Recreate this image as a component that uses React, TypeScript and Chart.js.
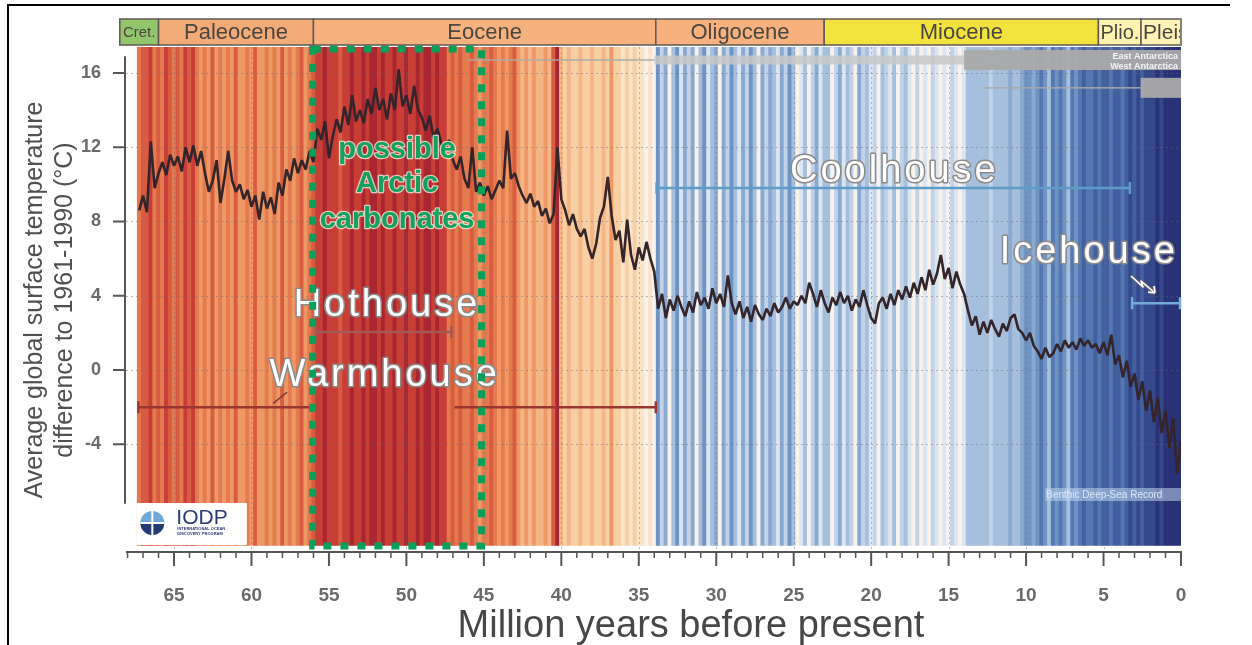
import React, { useEffect, useRef } from "react";
import { Chart, registerables } from "chart.js";
Chart.register(...registerables);

// ---------- DATA ----------
const AGES = [
  67.25, 67,
  66.75, 66.5, 66.25, 66, 65.75, 65.5, 65.25, 65, 64.75, 64.5, 64.25, 64,
  63.75, 63.5, 63.25, 63, 62.75, 62.5, 62.25, 62, 61.75, 61.5, 61.25, 61,
  60.75, 60.5, 60.25, 60, 59.75, 59.5, 59.25, 59, 58.75, 58.5, 58.25, 58,
  57.75, 57.5, 57.25, 57, 56.75, 56.5, 56.25, 56, 55.75, 55.5, 55.25, 55,
  54.75, 54.5, 54.25, 54, 53.75, 53.5, 53.25, 53, 52.75, 52.5, 52.25, 52,
  51.75, 51.5, 51.25, 51, 50.75, 50.5, 50.25, 50, 49.75, 49.5, 49.25, 49,
  48.75, 48.5, 48.25, 48, 47.75, 47.5, 47.25, 47, 46.75, 46.5, 46.25, 46,
  45.75, 45.5, 45.25, 45, 44.75, 44.5, 44.25, 44, 43.75, 43.5, 43.25, 43,
  42.75, 42.5, 42.25, 42, 41.75, 41.5, 41.25, 41, 40.75, 40.5, 40.25, 40,
  39.75, 39.5, 39.25, 39, 38.75, 38.5, 38.25, 38, 37.75, 37.5, 37.25, 37,
  36.75, 36.5, 36.25, 36, 35.75, 35.5, 35.25, 35, 34.75, 34.5, 34.25, 34,
  33.75, 33.5, 33.25, 33, 32.75, 32.5, 32.25, 32, 31.75, 31.5, 31.25, 31,
  30.75, 30.5, 30.25, 30, 29.75, 29.5, 29.25, 29, 28.75, 28.5, 28.25, 28,
  27.75, 27.5, 27.25, 27, 26.75, 26.5, 26.25, 26, 25.75, 25.5, 25.25, 25,
  24.75, 24.5, 24.25, 24, 23.75, 23.5, 23.25, 23, 22.75, 22.5, 22.25, 22,
  21.75, 21.5, 21.25, 21, 20.75, 20.5, 20.25, 20, 19.75, 19.5, 19.25, 19,
  18.75, 18.5, 18.25, 18, 17.75, 17.5, 17.25, 17, 16.75, 16.5, 16.25, 16,
  15.75, 15.5, 15.25, 15, 14.75, 14.5, 14.25, 14, 13.75, 13.5, 13.25, 13,
  12.75, 12.5, 12.25, 12, 11.75, 11.5, 11.25, 11, 10.75, 10.5, 10.25, 10,
  9.75, 9.5, 9.25, 9, 8.75, 8.5, 8.25, 8, 7.75, 7.5, 7.25, 7,
  6.75, 6.5, 6.25, 6, 5.75, 5.5, 5.25, 5, 4.75, 4.5, 4.25, 4,
  3.75, 3.5, 3.25, 3, 2.75, 2.5, 2.25, 2, 1.75, 1.5, 1.25, 1,
  0.75, 0.5, 0.25, 0,
];

// Average global surface temperature difference to 1961-1990 (°C)
const TEMPS = [
  8.6, 9.4,
  8.5, 12.3, 9.8, 10.6, 11.2, 10.5, 11.6, 11.0, 11.5, 10.7, 12.0, 11.2,
  12.1, 11.0, 11.8, 10.6, 9.6, 10.2, 11.3, 9.0, 10.3, 11.8, 10.2, 9.6,
  10.0, 9.2, 9.7, 8.8, 9.4, 8.1, 9.6, 8.7, 9.3, 8.4, 10.1, 9.4,
  10.8, 10.2, 11.4, 10.6, 11.3, 10.8, 11.8, 11.2, 13.0, 12.4, 13.4, 11.4,
  12.6, 13.5, 12.8, 14.2, 13.2, 14.8, 13.4, 14.0, 13.3, 14.6, 13.8, 15.2,
  14.0, 14.6, 13.5, 14.9, 14.0, 16.2, 14.2, 14.8, 13.8, 15.3, 14.0, 13.6,
  12.9, 13.7, 12.5, 13.0, 12.2, 11.8, 12.4, 11.3, 10.8, 11.5, 10.3, 9.8,
  12.0, 9.6, 10.1, 9.4, 9.9, 9.2, 9.7, 10.2, 9.8, 12.9, 10.3, 10.6,
  9.9, 9.4, 9.0, 9.5, 8.8, 9.1, 8.3, 8.7, 7.9, 8.4, 12.0, 9.2,
  8.6, 7.8, 8.4, 7.6, 7.2, 7.6, 6.6, 6.0, 6.8, 8.2, 8.8, 10.4,
  8.3, 7.0, 7.5, 5.8, 8.1, 6.2, 5.4, 6.6, 5.9, 6.9, 6.0, 5.3,
  3.3, 4.1, 2.8, 3.8, 3.2, 4.0, 3.4, 2.9, 3.7, 3.1, 4.2, 3.5,
  3.9, 3.3, 4.4, 3.6, 4.1, 3.4, 5.1, 3.6, 3.0, 3.7, 2.8, 3.4,
  2.6, 3.5, 3.0, 2.7, 3.3, 2.9, 3.6, 3.1, 3.4, 3.9, 3.3, 3.7,
  3.5, 4.0, 3.6, 4.7, 4.1, 3.4, 4.3, 3.6, 3.1, 3.9, 3.5, 4.2,
  3.6, 4.0, 3.2, 3.8, 3.4, 4.3, 3.5, 2.8, 2.5, 3.6, 3.9, 3.3,
  4.1, 3.5, 4.3, 3.8, 4.5, 3.9, 4.7, 4.1, 5.0, 4.3, 5.4, 4.6,
  5.2, 6.2, 4.9, 5.5, 4.4, 5.3, 4.6, 4.1, 3.2, 2.4, 2.9, 1.9,
  2.6, 2.0, 2.7, 2.2, 1.8, 2.5, 2.1, 2.8, 3.0, 2.2, 2.0, 1.6,
  2.0, 1.3, 1.0, 0.6, 1.2, 0.7, 0.9, 1.4, 1.0, 1.6, 1.2, 1.5,
  1.1, 1.7, 1.3, 1.6, 1.2, 1.4, 0.9, 1.5, 0.8, 1.9, 0.3, 0.8,
  -0.4, 0.5, -0.9, -0.2, -1.6, -0.6, -2.2, -1.1, -2.8, -1.5, -3.4, -2.2,
  -4.2, -2.6, -5.6, -3.8,
];

// warming-stripe level per age (positive = warm reds, negative = cool blues)
const STRIPE_LEVELS = [
  5, 6,
  6, 7, 5, 6, 5, 7, 6, 5, 6, 5, 7, 6,
  7, 5, 4, 5, 4, 6, 4, 5, 4, 5, 4, 6,
  4, 4, 5, 4, 6, 4, 4, 5, 4, 5, 4, 6,
  4, 5, 4, 5, 6, 4, 5, 6, 7, 7, 8, 7,
  7, 7, 6, 7, 7, 8, 7, 7, 8, 7, 8, 8,
  7, 8, 7, 7, 8, 7, 7, 8, 7, 7, 8, 7,
  8, 8, 7, 8, 7, 7, 5, 6, 5, 6, 5, 5,
  6, 5, 4, 5, 5, 6, 5, 4, 5, 4, 5, 6,
  4, 3, 4, 3, 4, 3, 3, 4, 3, 6, 8, 3,
  2, 3, 2, 2, 3, 2, 2, 3, 2, 2, 3, 2,
  4, 2, 2, 1, 2, 1, 2, 1, 1, 0, 1, 0,
  -5, -2, -4, 0, -3, -5, -1, -4, -2, -4, 0, -3,
  -5, -1, -3, -4, 0, -4, -2, -5, -3, -1, -4, -2,
  -5, -3, 0, -4, -2, -4, -3, -1, -4, -2, -5, -3,
  0, -1, -3, 0, -2, -4, -1, -3, -3, 0, -2, -4,
  -1, -3, -2, 0, -4, -2, -3, -1, -2, 0, -3, -2,
  -1, -3, 0, -2, -3, -1, 0, -2, 0, -1, 0, -2,
  -1, 0, -1, 0, -2, -1, 0, -1, -3, -3, -3, -3,
  -3, -3, -2, -3, -3, -3, -3, -4, -3, -3, -4, -5,
  -5, -4, -5, -6, -5, -3, -6, -5, -6, -5, -3, -6,
  -5, -6, -7, -6, -6, -7, -6, -7, -7, -6, -7, -7,
  -6, -7, -8, -7, -8, -7, -8, -8, -8, -9, -8, -9,
  -9, -9, -9, -9,
];

const Y_TICKS = [16, 12, 8, 4, 0, -4];
const X_TICKS = [65, 60, 55, 50, 45, 40, 35, 30, 25, 20, 15, 10, 5, 0];

const EPOCH_NAMES = ["Cret.", "Paleocene", "Eocene", "Oligocene", "Miocene", "Plio.", "Pleis"];
const EPOCH_FROM = [68.5, 66, 56, 33.9, 23.03, 5.33, 2.58];
const EPOCH_TO = [66, 56, 33.9, 23.03, 5.33, 2.58, 0];
const EPOCH_COLORS = ["#93c56a", "#f2aa76", "#f6b27e", "#f6b17e", "#f1e23e", "#fdf3b0", "#fff3b8"];

const STATE_NAMES = ["Hothouse", "Warmhouse", "Coolhouse", "Icehouse"];
const STATE_LABEL_AGE = [51.35, 51.5, 18.6, 6.05];
const STATE_LABEL_T = [3.5, -0.3, 10.7, 6.35];
const STATE_BAR_FROM = [55.85, 67.3, 33.85, 3.16];
const STATE_BAR_TO = [47.1, 33.9, 3.3, 0];
const STATE_BAR_T = [2.05, -2.0, 9.8, 3.6];
const STATE_COLORS = ["#a35a55", "#9a3631", "#5d9cc8", "#74acd6"];
const WARMHOUSE_GAP = [56.25, 46.9];

const ARCTIC_LINES = ["possible", "Arctic", "carbonates"];
const ARCTIC_AGE = 50.6;
const ARCTIC_T = [11.85, 10.0, 8.1];
const ARCTIC_BOX = [56.05, 45.15];

const ICE_NAMES = ["East Antarctica", "West Antarctica"];
const ICE_FROM = [[46, 34, 14], [12.8, 2.6]];
const ICE_TO = [[34, 14, 0], [2.6, 0]];
const ICE_SIZE = [[1, 2, 3], [1, 3]];
const ICE_T = [16.7, 15.2];

const WARM = ["#f7f2ec", "#fbe3c8", "#f8cea3", "#f4b686", "#ee9865", "#e47a4d", "#d85c41", "#c83e37", "#a8262f"];
const COLD = ["#f3f6fa", "#dce6f2", "#c2d3e8", "#a6bfdd", "#8aaad0", "#6f93c3", "#5577b1", "#42609f", "#34488b", "#293275"];
const stripeColor = (l: number) => (l >= 0 ? WARM[l] : COLD[-l]);

const FONT = '"Liberation Sans", Arial, Helvetica, sans-serif';

function outlined(ctx: CanvasRenderingContext2D, text: string, x: number, y: number, font: string, fill: string, stroke: string, lw: number, spacing = 0) {
  ctx.save();
  ctx.font = font;
  (ctx as any).letterSpacing = spacing + "px";
  ctx.textAlign = "center";
  ctx.textBaseline = "middle";
  ctx.lineJoin = "round";
  ctx.strokeStyle = stroke;
  ctx.lineWidth = lw;
  ctx.strokeText(text, x + spacing / 2, y);
  ctx.fillStyle = fill;
  ctx.fillText(text, x + spacing / 2, y);
  ctx.restore();
}

function capBar(ctx: CanvasRenderingContext2D, x1: number, x2: number, y: number, color: string, cap1 = true, cap2 = true) {
  ctx.save();
  ctx.strokeStyle = color;
  ctx.lineWidth = 2.5;
  ctx.beginPath();
  ctx.moveTo(x1, y);
  ctx.lineTo(x2, y);
  if (cap1) { ctx.moveTo(x1, y - 6); ctx.lineTo(x1, y + 6); }
  if (cap2) { ctx.moveTo(x2, y - 6); ctx.lineTo(x2, y + 6); }
  ctx.stroke();
  ctx.restore();
}

const decor = {
  id: "decor",
  afterDatasetDraw(chart: any, args: any) {
    if (args.index !== 0) return;
    const { ctx, chartArea: ca } = chart;
    const xs = chart.scales.x, ys = chart.scales.y;
    ctx.save();
    ctx.beginPath();
    ctx.rect(ca.left, ca.top, ca.right - ca.left, ca.bottom - ca.top);
    ctx.clip();
    // dotted grid
    ctx.setLineDash([2, 3]);
    ctx.strokeStyle = "rgba(105,105,125,0.45)";
    ctx.lineWidth = 1;
    Y_TICKS.forEach((t) => {
      const y = Math.round(ys.getPixelForValue(t)) + 0.5;
      ctx.beginPath(); ctx.moveTo(ca.left, y); ctx.lineTo(ca.right, y); ctx.stroke();
    });
    X_TICKS.forEach((a) => {
      const x = Math.round(xs.getPixelForValue(a)) + 0.5;
      ctx.beginPath(); ctx.moveTo(x, ca.top); ctx.lineTo(x, ca.bottom); ctx.stroke();
    });
    ctx.setLineDash([]);
    // ice sheets
    const thick = [0, 1.5, 9, 20];
    ICE_FROM.forEach((froms, i) => {
      const yc = ys.getPixelForValue(ICE_T[i]);
      froms.forEach((f, j) => {
        const x1 = xs.getPixelForValue(f), x2 = xs.getPixelForValue(ICE_TO[i][j]);
        const h = thick[ICE_SIZE[i][j]];
        ctx.fillStyle = ICE_SIZE[i][j] === 2 ? "rgba(200,200,200,0.85)" : "rgba(170,170,170,0.95)";
        ctx.fillRect(Math.min(x1, x2), yc - h / 2, Math.abs(x2 - x1), h);
      });
    });
    ctx.font = "bold 9px " + FONT;
    ctx.fillStyle = "#f4f4f4";
    ctx.textAlign = "right";
    ctx.textBaseline = "middle";
    ctx.fillText(ICE_NAMES[0], ca.right - 3, ys.getPixelForValue(ICE_T[0]) - 3);
    ctx.fillText(ICE_NAMES[1], ca.right - 3, ys.getPixelForValue(ICE_T[0]) + 7);
    ctx.restore();
  },
  afterDatasetsDraw(chart: any) {
    const { ctx, chartArea: ca } = chart;
    const xs = chart.scales.x, ys = chart.scales.y;
    const X = (a: number) => xs.getPixelForValue(a);
    const Y = (t: number) => ys.getPixelForValue(t);

    // IODP logo box
    ctx.save();
    ctx.fillStyle = "#ffffff";
    ctx.fillRect(X(67.4), 503, 110, ca.bottom - 6 - 503);
    const cx = X(66.4), cy = 523;
    ctx.beginPath(); ctx.arc(cx, cy, 12, Math.PI, 2 * Math.PI); ctx.fillStyle = "#6fa7d6"; ctx.fill();
    ctx.beginPath(); ctx.arc(cx, cy, 12, 0, Math.PI); ctx.fillStyle = "#233a73"; ctx.fill();
    ctx.strokeStyle = "#ffffff"; ctx.lineWidth = 2;
    ctx.beginPath(); ctx.moveTo(cx - 12, cy); ctx.lineTo(cx + 12, cy); ctx.moveTo(cx, cy - 12); ctx.lineTo(cx, cy + 12); ctx.stroke();
    ctx.font = "21px " + FONT; ctx.fillStyle = "#2a3a78"; ctx.textAlign = "left"; ctx.textBaseline = "alphabetic";
    ctx.fillText("IODP", cx + 24, 524);
    ctx.font = "bold 4px " + FONT;
    ctx.fillText("INTERNATIONAL OCEAN", cx + 25, 530);
    ctx.fillText("DISCOVERY PROGRAM", cx + 25, 535);
    ctx.restore();

    // Benthic label
    ctx.save();
    ctx.fillStyle = "rgba(190,212,236,0.55)";
    ctx.fillRect(X(8.75), 488, ca.right - X(8.75), 13);
    ctx.font = "10px " + FONT; ctx.fillStyle = "#dbe8f6"; ctx.textAlign = "left"; ctx.textBaseline = "middle";
    ctx.fillText("Benthic Deep-Sea Record", X(8.7), 495);
    ctx.restore();

    // climate state bars
    capBar(ctx, X(STATE_BAR_FROM[0]), X(STATE_BAR_TO[0]), Y(STATE_BAR_T[0]), STATE_COLORS[0]);
    capBar(ctx, X(STATE_BAR_FROM[1]), X(WARMHOUSE_GAP[0]), Y(STATE_BAR_T[1]), STATE_COLORS[1], true, false);
    capBar(ctx, X(WARMHOUSE_GAP[1]), X(STATE_BAR_TO[1]), Y(STATE_BAR_T[1]), STATE_COLORS[1], false, true);
    capBar(ctx, X(STATE_BAR_FROM[2]), X(STATE_BAR_TO[2]), Y(STATE_BAR_T[2]), STATE_COLORS[2]);
    capBar(ctx, X(STATE_BAR_FROM[3]), X(STATE_BAR_TO[3]) - 1, Y(STATE_BAR_T[3]), STATE_COLORS[3]);
    // little pointer stroke near Warmhouse bar
    ctx.save();
    ctx.strokeStyle = "#7a3a34"; ctx.lineWidth = 1.5;
    ctx.beginPath(); ctx.moveTo(X(58.6), Y(-1.8)); ctx.lineTo(X(57.7), Y(-1.2)); ctx.stroke();
    ctx.restore();

    // state labels
    STATE_NAMES.forEach((n, i) => {
      outlined(ctx, n, X(STATE_LABEL_AGE[i]), Y(STATE_LABEL_T[i]), "38px " + FONT, "#ffffff", "#8a8a8a", 3, 3);
    });

    // squiggly arrow under Icehouse
    ctx.save();
    const pts = [[1131, 276], [1143, 287], [1141, 281], [1155, 293]];
    ctx.lineJoin = "round";
    for (const pass of [0, 1]) {
      ctx.strokeStyle = pass === 0 ? "#6a6a7a" : "#ffffff";
      ctx.lineWidth = pass === 0 ? 3.5 : 1.6;
      ctx.beginPath();
      pts.forEach(([px, py], k) => (k ? ctx.lineTo(px, py) : ctx.moveTo(px, py)));
      ctx.moveTo(1155, 293); ctx.lineTo(1148, 292);
      ctx.moveTo(1155, 293); ctx.lineTo(1154, 286);
      ctx.stroke();
    }
    ctx.restore();

    // green dotted box
    ctx.save();
    ctx.strokeStyle = "#07a05a";
    ctx.lineWidth = 7;
    ctx.setLineDash([8, 9]);
    const bx1 = X(ARCTIC_BOX[0]), bx2 = X(ARCTIC_BOX[1]);
    ctx.strokeRect(bx1, ca.top + 2, bx2 - bx1, ca.bottom - ca.top - 7);
    ctx.restore();
    ARCTIC_LINES.forEach((l, i) => {
      outlined(ctx, l, X(ARCTIC_AGE), Y(ARCTIC_T[i]), "bold 29px " + FONT, "#14a05e", "rgba(235,255,240,0.75)", 2.5, 0);
    });

    // epoch bar
    ctx.save();
    const top = 19, h = 26;
    EPOCH_NAMES.forEach((n, i) => {
      const x1 = X(EPOCH_FROM[i]), x2 = X(EPOCH_TO[i]);
      ctx.fillStyle = EPOCH_COLORS[i];
      ctx.fillRect(x1, top, x2 - x1, h);
      ctx.strokeStyle = "#5f5a55"; ctx.lineWidth = 1.5;
      ctx.strokeRect(x1, top, x2 - x1, h);
      ctx.save();
      ctx.beginPath(); ctx.rect(x1 + 1, top, x2 - x1 - 2, h); ctx.clip();
      ctx.fillStyle = "#4a4640";
      ctx.textBaseline = "middle";
      if (i === 0) {
        ctx.font = "15px " + FONT; ctx.textAlign = "center";
        ctx.fillText(n, (x1 + x2) / 2, top + h / 2 + 1);
      } else if (i >= 5) {
        ctx.font = (i === 6 ? "21px " : "20px ") + FONT; ctx.textAlign = "left";
        ctx.fillText(n, x1 + 2, top + h / 2 + 1);
      } else {
        ctx.font = "22px " + FONT; ctx.textAlign = "center";
        ctx.fillText(n, (x1 + x2) / 2, top + h / 2 + 1);
      }
      ctx.restore();
    });
    ctx.restore();

    // axes
    ctx.save();
    ctx.strokeStyle = "#555555";
    ctx.lineWidth = 2;
    const axX = ca.left - 1;
    ctx.beginPath(); ctx.moveTo(axX, Y(16.9)); ctx.lineTo(axX, Y(-7.2)); ctx.stroke();
    ctx.fillStyle = "#6a6a6a";
    ctx.font = "bold 18px " + FONT;
    ctx.textAlign = "right"; ctx.textBaseline = "middle";
    Y_TICKS.forEach((t) => {
      const y = Y(t);
      ctx.beginPath(); ctx.moveTo(axX - 12, y); ctx.lineTo(axX, y); ctx.stroke();
      ctx.fillText(String(t), axX - 24, y);
    });
    const axY = ca.bottom + 1;
    ctx.beginPath(); ctx.moveTo(ca.left, axY); ctx.lineTo(ca.right + 1, axY); ctx.stroke();
    for (let a = 0; a <= 68; a++) {
      const x = X(a);
      const major = X_TICKS.includes(a);
      ctx.lineWidth = major ? 2 : 1.5;
      ctx.beginPath(); ctx.moveTo(x, axY); ctx.lineTo(x, axY + (major ? 14 : 6)); ctx.stroke();
    }
    ctx.font = "bold 19px " + FONT;
    ctx.textAlign = "center"; ctx.textBaseline = "alphabetic";
    X_TICKS.forEach((a) => ctx.fillText(String(a), X(a), 601));
    // titles
    ctx.fillStyle = "#474747";
    ctx.font = "38px " + FONT;
    ctx.fillText("Million years before present", 691, 637);
    ctx.save();
    ctx.translate(35, 300);
    ctx.rotate(-Math.PI / 2);
    ctx.font = "25px " + FONT;
    ctx.textBaseline = "middle";
    ctx.fillStyle = "#505050";
    ctx.fillText("Average global surface temperature", 0, 0);
    ctx.fillText("difference to 1961-1990 (°C)", 0, 30);
    ctx.restore();
    // frame
    ctx.strokeStyle = "#000000";
    ctx.lineWidth = 2;
    ctx.beginPath(); ctx.moveTo(8, 645); ctx.lineTo(8, 5); ctx.lineTo(1230, 5); ctx.stroke();
    ctx.restore();
  },
};

export default function App() {
  const ref = useRef<HTMLCanvasElement>(null);
  useEffect(() => {
    if (!ref.current) return;
    const chart = new Chart(ref.current, {
      type: "bar",
      data: {
        datasets: [
          {
            type: "bar",
            label: "stripes",
            data: AGES.map((a) => ({ x: a, y: [-9.45, 17.4] })) as any,
            backgroundColor: STRIPE_LEVELS.map(stripeColor),
            borderWidth: 0,
            barPercentage: 1,
            categoryPercentage: 1,
            order: 2,
          } as any,
          {
            type: "line",
            label: "temperature",
            data: AGES.map((a, i) => ({ x: a, y: TEMPS[i] })),
            borderColor: "#33252a",
            borderWidth: 2.6,
            borderJoinStyle: "bevel",
            pointRadius: 0,
            tension: 0,
            order: 1,
          } as any,
        ],
      },
      options: {
        responsive: false,
        animation: false,
        devicePixelRatio: 1,
        layout: { padding: { left: 126, right: 71, top: 47, bottom: 94 } },
        scales: {
          x: { type: "linear", min: 0, max: 68.1, reverse: true, display: false, offset: false },
          y: { type: "linear", min: -9.75, max: 17.4, display: false },
        },
        plugins: { legend: { display: false }, tooltip: { enabled: false } },
        events: [],
      },
      plugins: [decor],
    });
    return () => chart.destroy();
  }, []);
  return (
    <div style={{ position: "fixed", left: 0, top: 0, width: 1252, height: 645, background: "#ffffff" }}>
      <canvas ref={ref} width={1252} height={645} style={{ display: "block", width: 1252, height: 645 }} />
    </div>
  );
}
